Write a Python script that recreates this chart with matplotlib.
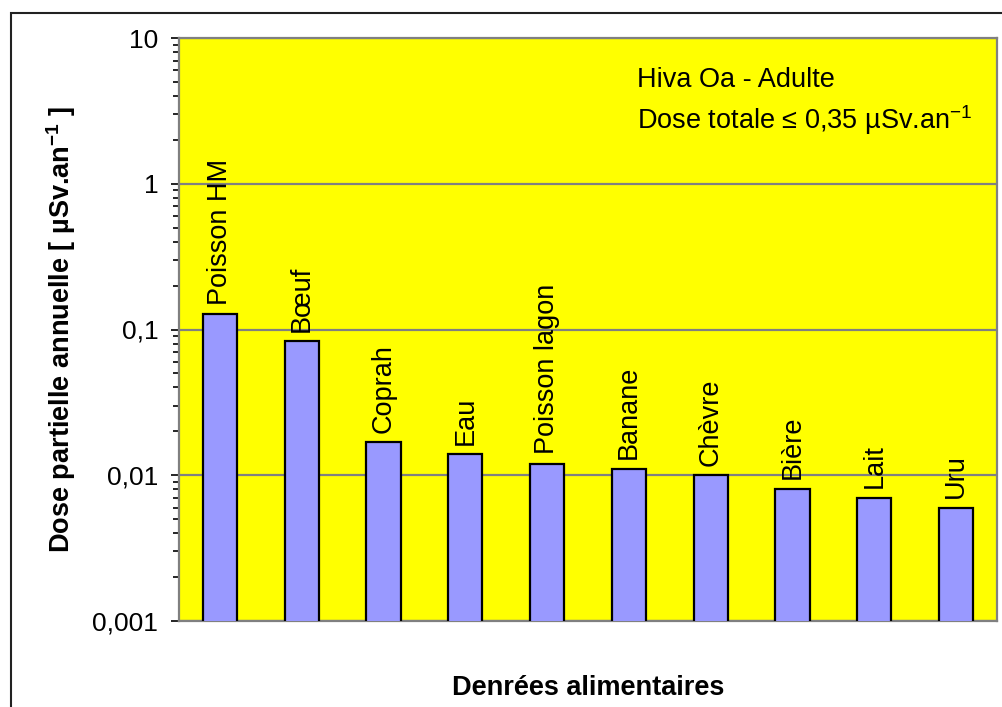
import matplotlib
matplotlib.use('Agg')
import matplotlib.pyplot as plt
from matplotlib.ticker import FuncFormatter, NullFormatter, LogLocator
from matplotlib.patches import Rectangle

plt.rcParams['font.family'] = ['Liberation Sans', 'DejaVu Sans']
plt.rcParams['mathtext.fontset'] = 'custom'
plt.rcParams['mathtext.rm'] = 'Liberation Sans'
plt.rcParams['mathtext.bf'] = 'Liberation Sans:bold'

# données
denrees = ['Poisson HM', 'Bœuf', 'Coprah', 'Eau', 'Poisson lagon',
           'Banane', 'Chèvre', 'Bière', 'Lait', 'Uru']
doses = [0.127, 0.083, 0.0168, 0.0139, 0.0120, 0.0110, 0.0100, 0.0081, 0.0070, 0.0060]
yticks = [0.001, 0.01, 0.1, 1, 10]

fig = plt.figure(figsize=(10.02, 7.07), dpi=100)
ax = fig.add_axes([179/1002, 1 - 621/707, 818/1002, 583/707])
ax.set_facecolor('#FFFF00')

x = range(len(denrees))
bars = ax.bar(x, doses, width=0.42, color='#9999FF', edgecolor='black', linewidth=1.6, zorder=3)
for xi, v, name in zip(x, doses, denrees):
    ax.annotate(name, (xi, v), xytext=(0, 7), textcoords='offset points',
                rotation=90, ha='center', va='bottom', fontsize=19.5, zorder=4)

ax.set_yscale('log')
ax.set_ylim(yticks[0], yticks[-1])
ax.set_xlim(-0.5, len(denrees) - 0.5)
ax.set_yticks(yticks)
ax.yaxis.set_minor_locator(LogLocator(base=10, subs=range(2, 10)))
ax.yaxis.set_minor_formatter(NullFormatter())
ax.yaxis.set_major_formatter(FuncFormatter(lambda v, p: f'{v:g}'.replace('.', ',')))
ax.tick_params(axis='y', which='major', length=6, width=1.2, labelsize=19, pad=9, color='black')
ax.tick_params(axis='y', which='minor', length=4, width=1.2, color='black')
ax.tick_params(axis='x', bottom=False, labelbottom=False)
ax.yaxis.grid(True, which='major', color='#808080', linewidth=1.6, zorder=1)
ax.set_axisbelow(True)
for s in ax.spines.values():
    s.set_color('#808080')
    s.set_linewidth(1.6)

ax.text(0.56, 0.928, 'Hiva Oa - Adulte', transform=ax.transAxes, fontsize=19.5,
        ha='left', va='center')
ax.text(0.56, 0.86, 'Dose totale ≤ 0,35 µSv.an$^{-1}$', transform=ax.transAxes,
        fontsize=19.5, ha='left', va='center')

fig.text(61/1002, 1 - 329/707, r'Dose partielle annuelle [ µSv.an$\mathbf{^{-1}}$ ]',
         rotation=90, ha='center', va='center', fontsize=19.5, fontweight='bold')
fig.text(588/1002, 1 - 688/707, 'Denrées alimentaires', ha='center', va='center',
         fontsize=19.5, fontweight='bold')

fig.patches.append(Rectangle((11/1002, -0.1), 1.2, 1.1 - 13/707, transform=fig.transFigure,
                             fill=False, edgecolor='#222222', linewidth=1.5))

fig.savefig('out.png', dpi=100)
